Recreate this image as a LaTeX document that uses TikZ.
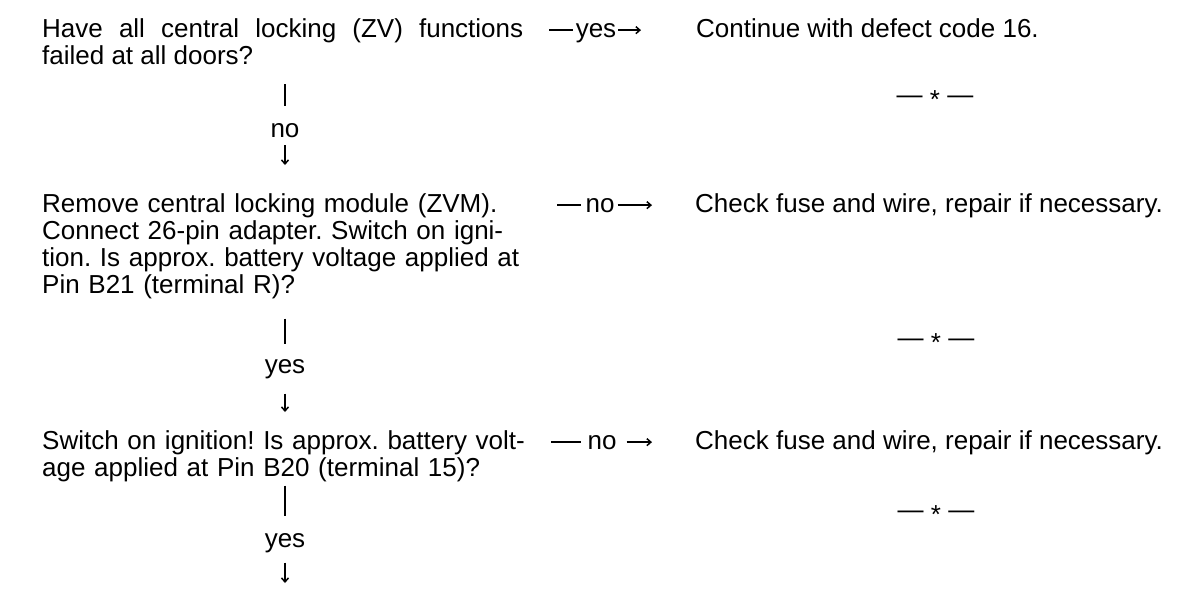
\documentclass[tikz,border=0pt]{standalone}
\usepackage{fontspec}
\setmainfont{Liberation Sans}
\usetikzlibrary{arrows.meta}
\frenchspacing

\begin{document}
\fontsize{26}{27}\selectfont
\begin{tikzpicture}[x=1pt,y=-1pt,
  every node/.style={inner sep=0pt,font=\fontsize{26}{27}\selectfont},
  ask/.style={anchor=north west,text width=481pt,align=left},
  act/.style={anchor=base west},
  lab/.style={anchor=base},
  conn/.style={line width=1.5pt},
  arr/.style={conn,-{Straight Barb[length=4pt,width=7pt]}}]
  \useasboundingbox (0,0) rectangle (1200,606);
  % Left: the questions
  \node[ask,align=justify] (q1) at (42,18)
     {Have all central locking (ZV) functions failed at all doors?};
  \node[ask] (q2) at (42,193)
     {Remove central locking module (ZVM).\\Connect 26-pin adapter. Switch on igni-\\tion. Is approx. battery voltage applied at\\Pin B21 (terminal R)?};
  \node[ask,text width=500pt] (q3) at (42,430)
     {Switch on ignition! Is approx. battery volt-\\age applied at Pin B20 (terminal 15)?};
  % Right: what to do
  \node[act] (r1) at (696,37) {Continue with defect code 16.};
  \node[act] (r2) at (695,212) {Check fuse and wire, repair if necessary.};
  \node[act] (r3) at (695,449) {Check fuse and wire, repair if necessary.};
  \node[lab] (sep1) at (935,103) {— \raisebox{-0.2em}{*} —};
  \node[lab] (sep2) at (936,346) {— \raisebox{-0.2em}{*} —};
  \node[lab] (sep3) at (936,518) {— \raisebox{-0.2em}{*} —};
  % labels
  \node[lab] (rt1) at (596,37) {yes};
  \node[lab] (rt2) at (600,212) {no};
  \node[lab] (rt3) at (602,449) {no};
  \node[lab] (dn1) at (285,137) {no};
  \node[lab] (dn2) at (285,373) {yes};
  \node[lab] (dn3) at (285,547) {yes};
  \coordinate (stop) at (285,583);
  % down
  \draw[conn,shorten <=20pt,shorten >=17pt] (q1.south -| dn1) -- (dn1.north);
  \draw[arr,shorten <=8pt,shorten >=28pt] (dn1.south) -- (q2.north -| dn1);
  \draw[conn,shorten <=20pt,shorten >=15pt] (q2.south -| dn2) -- (dn2.north);
  \draw[arr,shorten <=15pt,shorten >=18pt] (dn2.south) -- (q3.north -| dn2);
  \draw[conn,line width=2.2pt,shorten <=4pt,shorten >=17pt] (q3.south -| dn3) -- (dn3.north);
  \draw[arr,shorten <=10pt] (dn3.south) -- (stop);
  % across
  \draw[conn,shorten <=26pt,shorten >=3pt] (q1.east |- rt1.mid) -- (rt1.mid west);
  \draw[arr,shorten <=2pt,shorten >=55pt] (rt1.mid east) -- (r1.west |- rt1.mid);
  \draw[conn,shorten <=34pt,shorten >=4pt] (q2.east |- rt2.mid) -- (rt2.mid west);
  \draw[arr,shorten <=3pt,shorten >=43pt] (rt2.mid east) -- (r2.west |- rt2.mid);
  \draw[conn,shorten <=9pt,shorten >=6pt] (q3.east |- rt3.mid) -- (rt3.mid west);
  \draw[arr,shorten <=10pt,shorten >=43pt] (rt3.mid east) -- (r3.west |- rt3.mid);
\end{tikzpicture}
\end{document}
